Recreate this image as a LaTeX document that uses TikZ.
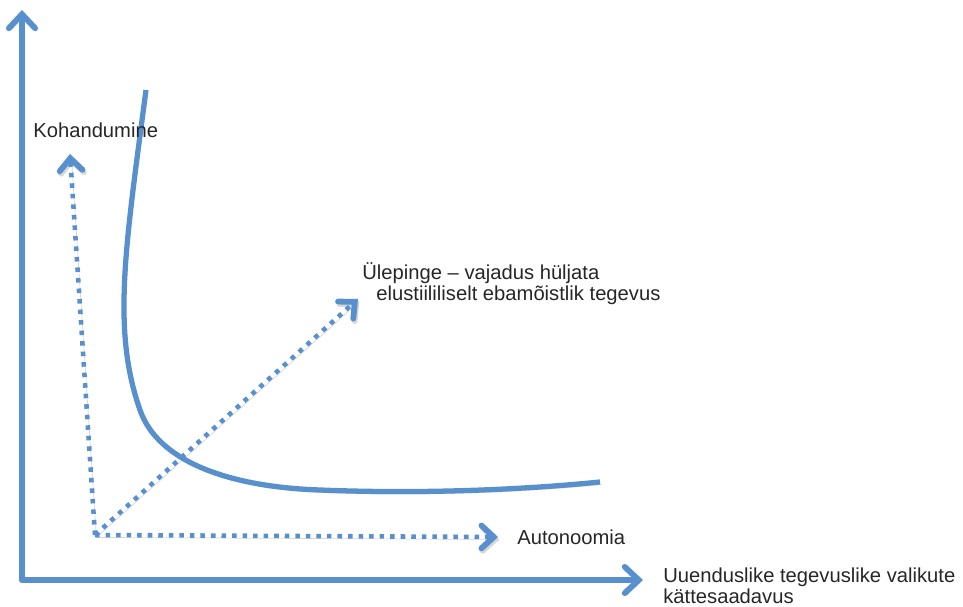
\documentclass[tikz,border=0pt]{standalone}
\usepackage{fontspec}
\setmainfont{Liberation Sans}
\usetikzlibrary{arrows.meta, positioning}
\definecolor{axisblue}{RGB}{88,144,206}

\begin{document}
\begin{tikzpicture}[x=0.02cm, y=-0.02cm,
  shadowed/.style={preaction={draw=black!45, opacity=0.35,
      transform canvas={shift={(0.8pt,-1.4pt)}}}},
  axis/.style={shadowed, draw=axisblue, line width=3.3pt, line cap=round,
      -{Straight Barb[length=8pt, width=15pt, line cap=round]}},
  dotarrow/.style={shadowed, draw=axisblue, line width=2.6pt,
      dash pattern=on 2.6pt off 3.4pt,
      -{Straight Barb[length=7pt, width=13pt, line width=0.7pt 1, line cap=round]}},
  curve/.style={shadowed, draw=axisblue, line width=3pt},
  lab/.style={font=\fontsize{11.5}{12}\selectfont, text=black!85, inner sep=0pt}]
  \useasboundingbox (0,0) rectangle (963,607);

  % points
  \coordinate (o) at (22,580);
  \coordinate (ytip) at (22,10);
  \coordinate (xtip) at (643,580);
  \coordinate (p) at (95,535);
  \coordinate (adapt) at (70,154);
  \coordinate (auto) at (498,537);
  \coordinate (strain) at (358,299);

  % axes
  \draw[axis] (o) -- (ytip);
  \draw[axis] (o) -- (xtip);

  % dotted arrows
  \draw[dotarrow] (p) -- (adapt);
  \draw[dotarrow] (p) -- (auto);
  \draw[dotarrow] (p) -- (strain);

  % curve
  \draw[curve] (146,90) .. controls (125,250) and (112,330) .. (140,410)
    .. controls (158,462) and (230,487) .. (320,490)
    .. controls (420,494) and (520,490) .. (600,482);

  % labels
  \node[lab, anchor=west] (adaptlab) at (33,130) {Kohandumine};
  \node[lab, anchor=west] (autolab) at (517,537) {Autonoomia};
  \node[lab, anchor=west, align=left] (strainlab) at (362,284)
    {Ülepinge – vajadus hüljata\\\hspace*{0.28cm}elustiililiselt ebamõistlik tegevus};
  \node[lab, anchor=west, align=left] (xlab) at (663,586)
    {Uuenduslike tegevuslike valikute\\kättesaadavus};
\end{tikzpicture}
\end{document}
